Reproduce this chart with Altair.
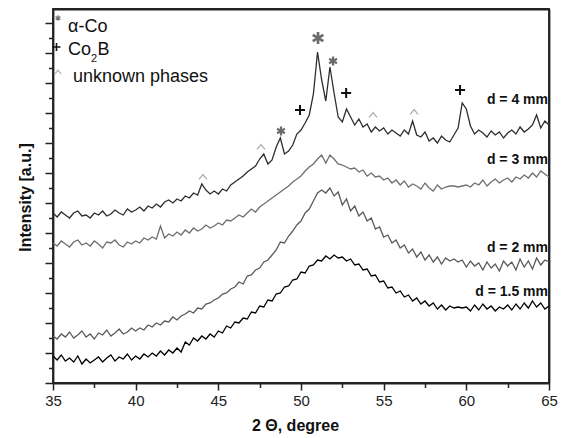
import altair as alt
import pandas as pd

# 2-theta sampling grid (degrees), 0.25 deg step
two_theta = [round(35 + 0.25 * i, 2) for i in range(121)]

# Intensities (a.u., offset stacked)
d4 = [170, 166, 171, 168, 165, 170, 172, 167, 168, 165, 170, 168, 172, 167, 169, 173, 170, 168, 174, 171,
      173, 176, 172, 177, 175, 179, 176, 181, 183, 180, 184, 182, 187, 185, 190, 188, 199, 193, 189, 192,
      189, 194, 192, 198, 201, 204, 207, 211, 214, 217, 224, 229, 219, 223, 236, 245, 229, 232, 238, 249,
      253, 260, 268, 289, 331, 303, 282, 316, 290, 266, 261, 274, 266, 258, 264, 256, 259, 251, 256, 252,
      255, 249, 253, 250, 247, 253, 249, 262, 248, 246, 251, 242, 245, 240, 247, 243, 241, 248, 255, 280,
      274, 257, 249, 253, 250, 246, 252, 248, 251, 245, 250, 253, 249, 256, 251, 254, 258, 268, 255, 262,
      258]
d3 = [140, 137, 142, 139, 136, 141, 143, 138, 140, 137, 142, 139, 135, 141, 140, 143, 138, 136, 141, 139,
      142, 140, 145, 143, 146, 144, 157, 145, 149, 147, 151, 148, 153, 150, 155, 152, 154, 158, 155, 157,
      160, 158, 163, 162, 165, 168, 166, 170, 174, 171, 176, 179, 182, 185, 188, 191, 194, 197, 201, 204,
      207, 212, 216, 219, 224, 228, 220, 228, 224, 219, 218, 216, 214, 215, 211, 213, 207, 210, 206, 207,
      203, 205, 200, 203, 198, 202, 196, 199, 197, 194, 200, 195, 192, 198, 194, 196, 197, 197, 196, 197,
      198, 196, 200, 198, 203, 197, 201, 204, 200, 203, 205, 201, 206, 204, 208, 205, 210, 206, 212, 209,
      206]
d2 = [47, 44, 49, 46, 51, 45, 48, 52, 46, 49, 44, 50, 48, 53, 47, 50, 54, 49, 51, 55,
      52, 55, 53, 58, 56, 60, 58, 62, 61, 66, 63, 67, 69, 72, 70, 75, 74, 79, 80, 83,
      85, 89, 90, 94, 96, 101, 99, 107, 108, 113, 115, 121, 123, 128, 133, 141, 140, 147, 152, 158,
      162, 170, 174, 182, 190, 193, 190, 195, 187, 191, 178, 184, 172, 177, 167, 171, 162, 165, 154, 156,
      146, 148, 140, 143, 135, 138, 130, 134, 126, 131, 123, 128, 121, 126, 119, 125, 122, 124, 121, 123,
      116, 122, 117, 120, 113, 121, 115, 119, 112, 122, 117, 121, 113, 124, 116, 122, 114, 125, 118, 123,
      121]
d15 = [27, 23, 28, 22, 25, 21, 27, 19, 24, 20, 23, 26, 21, 25, 28, 22, 26, 24, 29, 23,
       27, 24, 29, 26, 30, 27, 32, 28, 33, 30, 35, 31, 41, 38, 45, 42, 47, 44, 49, 46,
       52, 50, 57, 55, 61, 60, 65, 64, 71, 70, 77, 76, 83, 82, 89, 90, 96, 97, 103, 104,
       111, 110, 117, 118, 123, 122, 127, 124, 128, 125, 126, 122, 124, 118, 119, 113, 114, 107, 108, 101,
       102, 95, 96, 90, 92, 86, 88, 82, 85, 79, 82, 77, 80, 74, 78, 73, 77, 75, 76, 75,
       76, 72, 78, 73, 79, 74, 77, 72, 76, 74, 78, 73, 79, 74, 80, 75, 82, 76, 80, 74,
       77]

series_names = ["d = 4 mm", "d = 3 mm", "d = 2 mm", "d = 1.5 mm"]
series_colors = ["#2e2e2e", "#6e6e6e", "#5a5a5a", "#000000"]
label_y = [279, 219, 131, 87]

# Phase markers: alpha-Co (*), Co2B (+), unknown phases (^)
alpha_x = [51.03, 51.94, 48.79]
alpha_y = [345, 322, 252]
co2b_x = [49.94, 52.73, 59.62]
co2b_y = [273, 290, 293]
unk_x = [44.07, 47.58, 54.36, 56.84]
unk_y = [206, 236, 268, 271]

x_major = [35, 40, 45, 50, 55, 60, 65]
x_minor = [37.5, 42.5, 47.5, 52.5, 57.5, 62.5]
y_major = [0, 30, 60, 90, 120, 150, 180, 210, 240, 270, 300, 330, 360]
y_minor = [15, 45, 75, 105, 135, 165, 195, 225, 255, 285, 315, 345]

rows = []
for name, vals in zip(series_names, [d4, d3, d2, d15]):
    for t, v in zip(two_theta, vals):
        rows.append({"theta": t, "I": v, "series": name})
df = pd.DataFrame(rows)

X_SCALE = alt.Scale(domain=[35, 65], nice=False, zero=False)
Y_SCALE = alt.Scale(domain=[0, 374], nice=False, zero=False)
FONT = "Liberation Sans"
W, H = 496, 374

x_axis = alt.Axis(values=x_major, tickSize=7, tickWidth=1.5, tickColor="#222",
                  domainColor="#222", domainWidth=1.8, grid=False, labelFlush=False,
                  labelFontSize=15, labelColor="#222", labelPadding=3, labelFont=FONT,
                  title="2 Θ, degree", titleFontSize=16, titleFontWeight="bold", titleFont=FONT,
                  titleColor="#111", titleX=242, titleY=47, titleBaseline="alphabetic")
y_axis = alt.Axis(values=y_major, tickSize=8, tickWidth=1.5, tickColor="#222",
                  domainColor="#222", domainWidth=1.8, grid=False, labels=False,
                  title="Intensity [a.u.]", titleFontSize=16, titleFontWeight="bold", titleFont=FONT,
                  titleColor="#111", titleX=-23, titleY=188, titleAngle=270,
                  titleBaseline="alphabetic", titleAlign="center")

lines = alt.Chart(df).mark_line(strokeWidth=1.3).encode(
    x=alt.X("theta:Q", scale=X_SCALE, axis=x_axis),
    y=alt.Y("I:Q", scale=Y_SCALE, axis=y_axis),
    color=alt.Color("series:N", scale=alt.Scale(domain=series_names, range=series_colors), legend=None),
    detail="series:N",
)

# plot frame (top and right edges) drawn as bare axis domains
frame = alt.Chart(df).mark_line(strokeOpacity=0).encode(
    x=alt.X("theta:Q", scale=X_SCALE,
            axis=alt.Axis(orient="top", labels=False, ticks=False, grid=False, title="",
                          domainColor="#222", domainWidth=1.8)),
    y=alt.Y("I:Q", scale=Y_SCALE,
            axis=alt.Axis(orient="right", labels=False, ticks=False, grid=False, title="",
                          domainColor="#222", domainWidth=1.8)),
    detail="series:N",
)

# minor ticks on bottom and left, drawn as extra tick-only axes
minor = alt.Chart(df).mark_line(strokeOpacity=0).encode(
    x=alt.X("theta:Q", scale=X_SCALE,
            axis=alt.Axis(orient="bottom", values=x_minor, labels=False, domain=False, grid=False,
                          title="", tickSize=4.5, tickWidth=1.5, tickColor="#222")),
    y=alt.Y("I:Q", scale=Y_SCALE,
            axis=alt.Axis(orient="left", values=y_minor, labels=False, domain=False, grid=False,
                          title="", tickSize=4.5, tickWidth=1.5, tickColor="#222")),
    detail="series:N",
)

AST = "M0,-1L0,1M-0.87,-0.5L0.87,0.5M-0.87,0.5L0.87,-0.5"
PLUS = "M-1,0L1,0M0,-1L0,1"
CARET = "M-1,0.6L0,-0.6L1,0.6"

def marker_layer(xs, ys, shape, color, sw, size):
    return alt.Chart(pd.DataFrame({"x": xs, "y": ys})).mark_point(
        shape=shape, filled=False, stroke=color, strokeWidth=sw, opacity=1, size=size).encode(
        x=alt.X("x:Q", scale=X_SCALE, axis=None), y=alt.Y("y:Q", scale=Y_SCALE, axis=None))

m_a1 = marker_layer(alpha_x[:1], alpha_y[:1], AST, "#6a6a6a", 2.6, 150)
m_a2 = marker_layer(alpha_x[1:], alpha_y[1:], AST, "#6a6a6a", 2.2, 81)
m_p = marker_layer(co2b_x, co2b_y, PLUS, "#111111", 2.0, 100)
m_u = marker_layer(unk_x, unk_y, CARET, "#b0b0b0", 1.4, 64)

ldf = pd.DataFrame({"name": series_names, "y": label_y, "x": [65] * 4})
labels = alt.Chart(ldf).mark_text(align="right", baseline="alphabetic", fontSize=14,
                                  fontWeight="bold", font=FONT, color="#111", dx=-1).encode(
    x=alt.X("x:Q", scale=X_SCALE, axis=None), y=alt.Y("y:Q", scale=Y_SCALE, axis=None),
    text="name:N")

one = pd.DataFrame({"a": [0]})

# Legend (annotation in the top-left corner)
def leg_text(t, px, py, fs):
    return alt.Chart(one).mark_text(align="left", baseline="alphabetic", font=FONT, color="#111",
                                    fontSize=fs, text=t).encode(x=alt.value(px), y=alt.value(py))

def leg_sym(shape, color, sw, size, px, py):
    return alt.Chart(one).mark_point(shape=shape, filled=False, stroke=color, strokeWidth=sw,
                                     opacity=1, size=size).encode(x=alt.value(px), y=alt.value(py))

legend_layers = [
    leg_text("α-Co", 15, 23, 18),
    leg_text("Co", 15, 46, 18),
    leg_text("2", 38, 53, 11),
    leg_text("B", 44.5, 46, 18),
    leg_text("unknown phases", 20, 73, 18),
    leg_sym(AST, "#777777", 1.3, 30, 5, 9),
    leg_sym(PLUS, "#111111", 1.6, 64, 3.5, 38),
    leg_sym(CARET, "#b0b0b0", 1.2, 36, 5, 63),
]

chart = alt.layer(lines, frame, minor, m_a1, m_a2, m_p, m_u, labels,
                  *legend_layers).resolve_axis(x="independent", y="independent").properties(
    width=W, height=H,
    background="white",
    autosize=alt.AutoSizeParams(type="none"),
    padding={"left": 53, "top": 9, "right": 15, "bottom": 55},
).configure_view(stroke="#222", strokeWidth=1.8)

chart.save("out.html", embed_options={"renderer": "svg", "actions": False})
